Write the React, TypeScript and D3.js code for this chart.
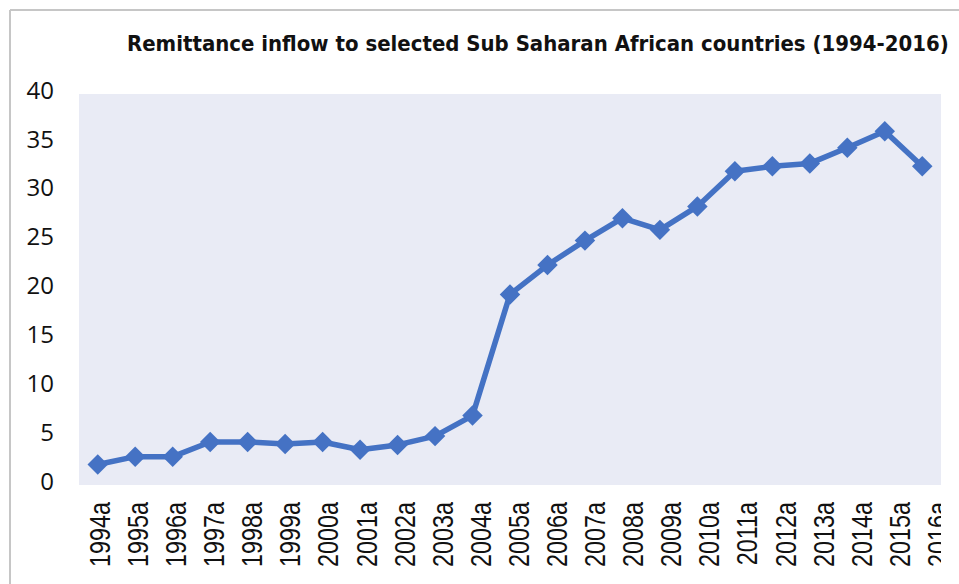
import React, { useLayoutEffect, useRef, useState } from "react";
import * as d3 from "d3";

const years = [
  "1994a", "1995a", "1996a", "1997a", "1998a", "1999a", "2000a", "2001a",
  "2002a", "2003a", "2004a", "2005a", "2006a", "2007a", "2008a", "2009a",
  "2010a", "2011a", "2012a", "2013a", "2014a", "2015a", "2016a",
];
const remittance = [
  2.1, 2.9, 2.9, 4.4, 4.4, 4.2, 4.4, 3.6, 4.1, 5.0, 7.1, 19.5, 22.5, 25.0,
  27.3, 26.1, 28.5, 32.1, 32.6, 32.9, 34.5, 36.2, 32.6,
];
const yTicks = [0, 5, 10, 15, 20, 25, 30, 35, 40];
const title = "Remittance inflow to selected Sub Saharan African countries (1994-2016)";

const width = 959;
const height = 584;
const plot = { left: 79, right: 941, top: 94, bottom: 485 };
const titleWidth = 822;

const App = () => {
  const titleRef = useRef<SVGTextElement>(null);
  const [titleScale, setTitleScale] = useState(0.83);

  // squeeze the title to the width it has in the original
  useLayoutEffect(() => {
    if (titleRef.current) {
      const len = titleRef.current.getComputedTextLength();
      if (len > 0) setTitleScale(titleWidth / len);
    }
  }, []);

  const x = d3
    .scalePoint<string>()
    .domain(years)
    .range([plot.left, plot.right])
    .padding(0.5);

  // tick labels sit on a slightly wider grid than the points in the original
  const xLabel = d3
    .scalePoint<string>()
    .domain(years)
    .range([plot.left + 20, plot.right - 4]);

  const y = d3.scaleLinear().domain([0, 40]).range([plot.bottom, plot.top]);

  const data = years.map((yr, i) => ({ yr, v: remittance[i] }));

  const line = d3
    .line<{ yr: string; v: number }>()
    .x((d) => x(d.yr)!)
    .y((d) => y(d.v));

  const marker = d3.symbol().type(d3.symbolSquare).size(210)();

  return (
    <svg
      width={width}
      height={height}
      style={{ position: "absolute", left: 0, top: 0, background: "#fff" }}
    >
      <defs>
        <clipPath id="labelClip">
          <rect x={0} y={plot.bottom} width={plot.right} height={height - plot.bottom} />
        </clipPath>
        <filter id="soft" x="-20%" y="-20%" width="140%" height="140%">
          <feGaussianBlur stdDeviation="0.7" />
        </filter>
      </defs>

      {/* frame */}
      <line x1={10} y1={10} x2={width} y2={10} stroke="#c6c6c6" strokeWidth={2} />
      <line x1={10} y1={10} x2={10} y2={height} stroke="#c6c6c6" strokeWidth={2} />

      <text
        ref={titleRef}
        transform={`translate(127,51) scale(${titleScale},1)`}
        fontFamily="DejaVu Sans, sans-serif"
        fontWeight="bold"
        fontSize={20.5}
        fill="#111"
      >
        {title}
      </text>

      {/* plot background */}
      <rect
        x={plot.left}
        y={plot.top}
        width={plot.right - plot.left}
        height={plot.bottom - plot.top}
        fill="#e9ebf5"
      />

      {/* y axis labels */}
      <g fontFamily="Open Sans, sans-serif" fontSize={24} fill="#111" textAnchor="end">
        {yTicks.map((t) => (
          <text key={t} x={54} y={y(t) - 4} dy="0.36em">
            {t}
          </text>
        ))}
      </g>

      {/* x axis labels */}
      <g
        clipPath="url(#labelClip)"
        fontFamily="Liberation Sans, Arial, sans-serif"
        fontSize={23.4}
        fill="#111"
        textAnchor="end"
      >
        {years.map((yr) => (
          <text
            key={yr}
            transform={`translate(${xLabel(yr)},502) rotate(-90) scale(1,1.29)`}
            dy="0.36em"
          >
            {yr}
          </text>
        ))}
      </g>

      {/* series */}
      <path
        d={line(data) ?? ""}
        fill="none"
        stroke="#4472c4"
        strokeWidth={5.5}
        strokeLinejoin="round"
      />
      <g fill="#4472c4" filter="url(#soft)">
        {data.map((d) => (
          <path
            key={d.yr}
            d={marker ?? ""}
            transform={`translate(${x(d.yr)},${y(d.v)}) rotate(45)`}
          />
        ))}
      </g>
    </svg>
  );
};

export default App;
